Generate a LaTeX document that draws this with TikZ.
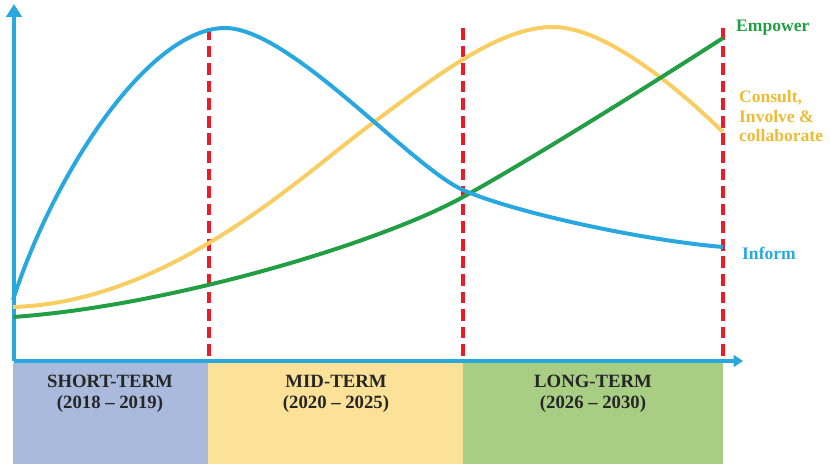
\documentclass[tikz,border=0pt]{standalone}
\usepackage{fontspec}
\setmainfont{Liberation Serif}
\usetikzlibrary{arrows.meta, positioning}

\definecolor{informblue}{RGB}{41,168,224}
\definecolor{consultyellow}{RGB}{248,206,98}
\definecolor{consulttext}{RGB}{238,188,52}
\definecolor{empowergreen}{RGB}{34,158,68}
\definecolor{dividerred}{RGB}{232,28,42}
\definecolor{shortfill}{RGB}{170,186,220}
\definecolor{midfill}{RGB}{251,226,152}
\definecolor{longfill}{RGB}{168,206,132}

\begin{document}
\begin{tikzpicture}[
  x=0.03cm, y=-0.03cm,
  axis/.style = {informblue, line width=3.6pt, -{Triangle[length=11pt, width=13pt]}},
  curve/.style = {line width=3.4pt},
  divider/.style = {dividerred, line width=3.4pt, dash pattern=on 10pt off 5pt},
  phase/.style = {draw=none, anchor=north west, minimum height=3.03cm, inner sep=0pt},
  phaselabel/.style = {font=\bfseries\fontsize{16}{18}\selectfont, text=black!85, align=center},
  endlabel/.style = {font=\bfseries\fontsize{15}{17}\selectfont, anchor=west, align=left}
]
  \useasboundingbox (0,0) rectangle (830,464);

  % Phases
  \node[phase, fill=shortfill, minimum width=5.85cm] (short) at (13,363) {};
  \node[phase, fill=midfill, minimum width=7.65cm] (mid) at (208,363) {};
  \node[phase, fill=longfill, minimum width=7.8cm] (long) at (463,363) {};
  \node[phaselabel] (shortlbl) at (110,394) {SHORT-TERM\\(2018 -- 2019)};
  \node[phaselabel] (midlbl) at (336,394) {MID-TERM\\(2020 -- 2025)};
  \node[phaselabel] (longlbl) at (593,394) {LONG-TERM\\(2026 -- 2030)};

  % Axes
  \coordinate (origin) at (14,361);
  \coordinate (ytip) at (14,4);
  \coordinate (xtip) at (743,361);
  \draw[axis] (origin) -- (ytip);
  \draw[axis, -{Triangle[length=8pt, width=10pt]}] (origin) -- (xtip);

  % Dividers
  \foreach \x/\name in {209/d1, 463/d2, 723/d3} {
    \coordinate (\name top) at (\x,28);
    \coordinate (\name bot) at (\x,361);
    \draw[divider] (\name top) -- (\name bot);
  }

  % Curves
  \draw[curve, consultyellow] (13,307) .. controls (170,302) and (300,177) .. (370,125)
    .. controls (440,73) and (500,27) .. (553,27)
    .. controls (610,27) and (690,100) .. (723,132);
  \draw[curve, empowergreen] (13,317) .. controls (170,306) and (380,243) .. (463,197)
    .. controls (530,160) and (650,85) .. (723,38);
  \draw[curve, informblue] (13,300) .. controls (55,170) and (150,28) .. (225,28)
    .. controls (290,28) and (410,166) .. (463,190)
    .. controls (513,212) and (640,240) .. (723,247);

  % Labels
  \node[endlabel, text=empowergreen] (empower) at (732,28) {Empower};
  \node[endlabel, text=consulttext] (consult) at (735,116) {Consult,\\Involve \&\\collaborate};
  \node[endlabel, text=informblue] (inform) at (738,253) {Inform};
\end{tikzpicture}
\end{document}
